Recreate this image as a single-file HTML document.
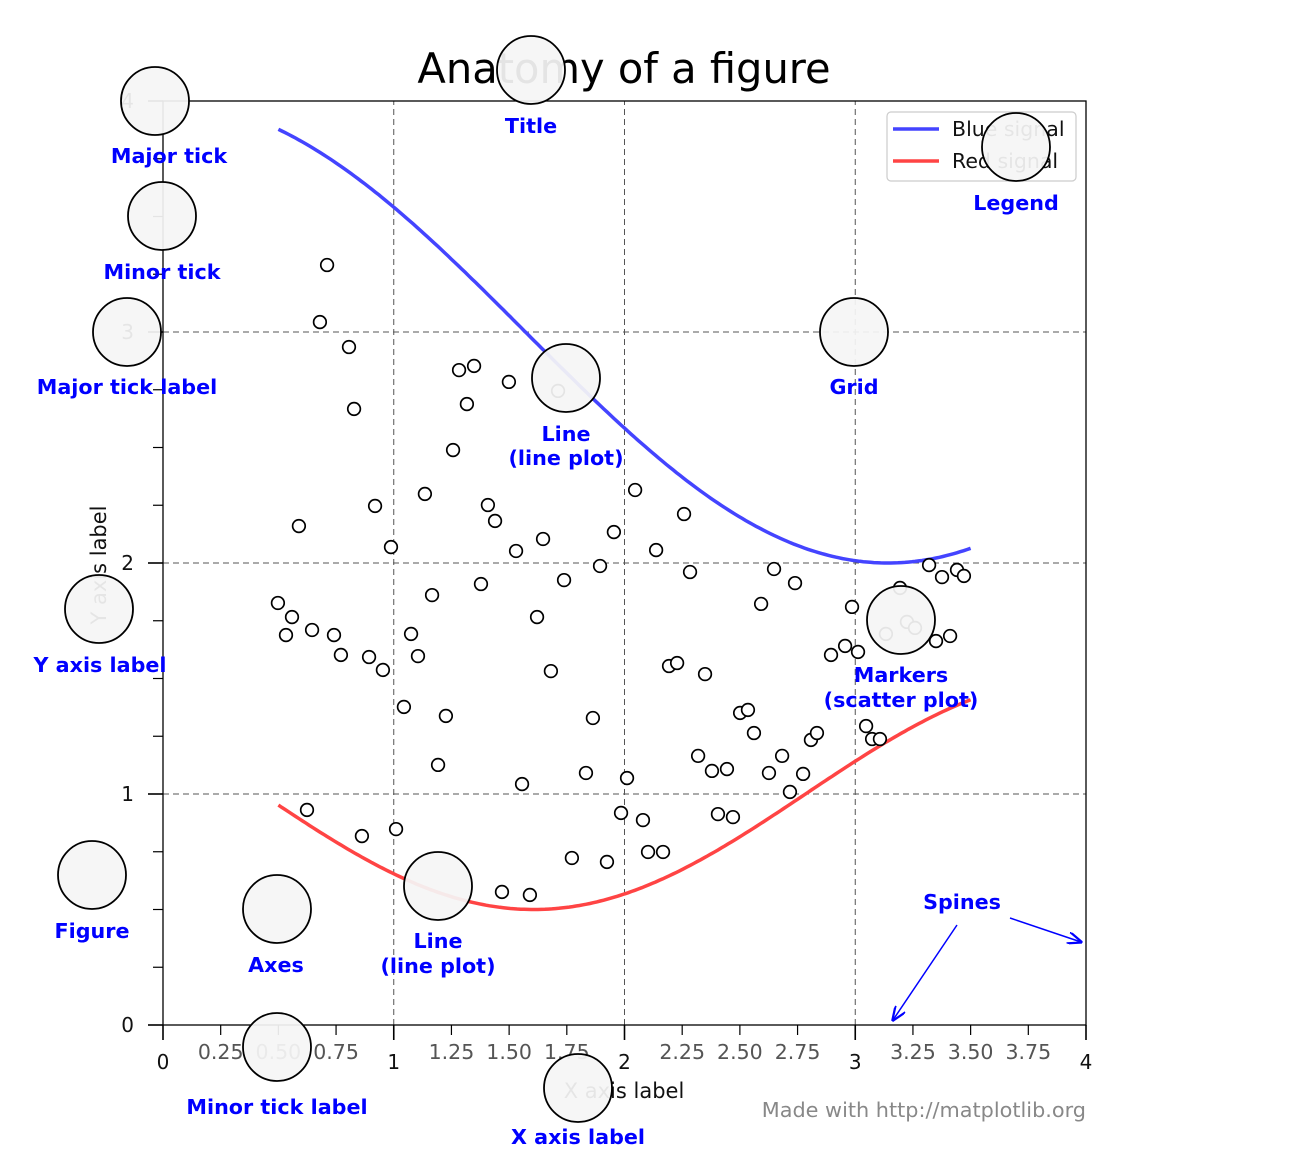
<!DOCTYPE html>
<html><head><meta charset="utf-8"><style>
body{margin:0;background:#fff}
svg{display:block;font-family:"DejaVu Sans","Liberation Sans",sans-serif}
.lab{fill:#0000ff;font-weight:bold;font-size:20.7px;text-anchor:middle}
</style></head><body>
<svg id="s" width="1314" height="1162" viewBox="0 0 1314 1162"></svg>
<script>
const xs=[327,320,349,354,299,375,391,278,292,286,312,334,341,369,383,411,418,432,404,425,459,474,467,453,509,488,495,481,516,543,537,551,564,558,600,614,635,656,684,690,669,677,705,761,774,795,852,845,858,831,900,886,907,915,936,950,929,942,957,964,446,438,522,586,593,627,621,643,648,663,607,572,530,502,396,362,307,698,712,727,718,733,740,748,754,769,782,790,803,811,817,866,872,880].map(p=>+((p-163)/230.75).toFixed(3));
const ys=[265,322,347,409,526,506,547,603,617,635,630,635,655,657,670,634,656,595,707,494,370,366,404,450,382,505,521,584,551,539,617,671,580,391,566,532,490,550,514,572,666,663,674,604,569,583,607,646,652,655,588,634,622,628,641,636,565,577,570,576,716,765,784,773,718,778,813,820,852,852,862,858,895,892,829,836,810,756,771,769,814,817,713,710,733,773,756,792,774,740,733,726,739,739].map(p=>+((1025-p)/231).toFixed(3));
const majorTicks=[0,1,2,3,4];
const minorLabels=["0.25","0.50","0.75","1.25","1.50","1.75","2.25","2.50","2.75","3.25","3.50","3.75"];
const legendLabels=["Blue signal","Red signal"];
const NS="http://www.w3.org/2000/svg",s=document.getElementById('s');
const X=v=>163+v*230.75, Y=v=>1025-v*231;
function el(t,a,txt){const e=document.createElementNS(NS,t);for(const k in a)e.setAttribute(k,a[k]);if(txt!=null)e.textContent=txt;s.appendChild(e);return e;}
majorTicks.forEach(v=>{
 let g=el('line',{x1:X(v),x2:X(v),y1:Y(0),y2:Y(4),stroke:'#555','stroke-dasharray':'6,4','stroke-width':1});
 
 g=el('line',{x1:X(0),x2:X(4),y1:Y(v),y2:Y(v),stroke:'#555','stroke-dasharray':'6,4','stroke-width':1});
 
});
function curve(f,c,name){let d='';for(let i=0;i<=200;i++){const x=0.5+3*i/200;d+=(i?'L':'M')+X(x).toFixed(1)+','+Y(f(x)).toFixed(1);}
 const p=el('path',{d,fill:'none',stroke:c,'stroke-width':3.5});}
curve(x=>3+Math.cos(x),'#4444ff','blue-signal-line');
curve(x=>1+Math.cos(1+x/0.75)/2,'#ff4444','red-signal-line');
xs.forEach((x,i)=>{const c=el('circle',{cx:X(x),cy:Y(ys[i]),r:6.3,fill:'#fff',stroke:'#000','stroke-width':1.7});
 });
const sp=el('rect',{x:X(0),y:Y(4),width:X(4)-X(0),height:Y(0)-Y(4),fill:'none',stroke:'#000','stroke-width':1.3});

for(let i=0;i<=16;i++){const v=i/4,maj=i%4==0,L=maj?15:10;
 el('line',{x1:X(v),x2:X(v),y1:Y(0),y2:Y(0)+L,stroke:'#000','stroke-width':maj?1.6:1.2});
 el('line',{x1:X(0),x2:X(0)-L,y1:Y(v),y2:Y(v),stroke:'#000','stroke-width':maj?1.6:1.2});}
majorTicks.forEach(v=>{
 const t=el('text',{x:X(v),y:1069,'font-size':20,'text-anchor':'middle',fill:'#111'},String(v));
 
 const u=el('text',{x:134,y:Y(v)+7,'font-size':20,'text-anchor':'end',fill:'#111'},String(v));
 });
minorLabels.forEach(l=>{const t=el('text',{x:X(+l),y:1059,'font-size':20.5,'text-anchor':'middle',fill:'#555'},l);
 });
let t=el('text',{x:624,y:83,'font-size':41.6,'text-anchor':'middle',fill:'#000'},'Anatomy of a figure');
t=el('text',{x:624,y:1098,'font-size':21,'text-anchor':'middle',fill:'#111'},'X axis label');
t=el('text',{x:0,y:0,'font-size':21,'text-anchor':'middle',fill:'#111',transform:'translate(106,565) rotate(-90)'},'Y axis label');
t=el('text',{x:1086,y:1117,'font-size':20.8,'text-anchor':'end',fill:'#888'},'Made with http://matplotlib.org');
const lg=el('rect',{x:887,y:112,width:189,height:69,rx:4,fill:'#fff',stroke:'#ccc','stroke-width':1.2});
legendLabels.forEach((l,i)=>{const y=129+i*32;
 el('line',{x1:893,x2:939,y1:y,y2:y,stroke:i?'#ff4444':'#4444ff','stroke-width':3.5});
 const e=el('text',{x:952,y:y+7,'font-size':20.5,fill:'#111'},l);});
const circ=[[155,101],[162,216],[127,332],[99,609],[92,875],[277,909],[277,1047],[578,1088],[438,886],[566,378],[531,70],[854,332],[901,620],[1016,147]];
circ.forEach(c=>{const e=el('circle',{cx:c[0],cy:c[1],r:34,fill:'#f5f5f5','fill-opacity':0.93,stroke:'#000','stroke-width':1.8});
 });
const labs=[[169,163,'Major tick'],[162,279,'Minor tick'],[127,394,'Major tick label'],[100,672,'Y axis label'],[92,938,'Figure'],[276,972,'Axes'],[277,1114,'Minor tick label'],[578,1144,'X axis label'],[438,948,'Line'],[438,973,'(line plot)'],[566,441,'Line'],[566,465,'(line plot)'],[531,133,'Title'],[854,394,'Grid'],[901,682,'Markers'],[901,707,'(scatter plot)'],[1016,210,'Legend'],[962,909,'Spines']];
labs.forEach(l=>{const e=el('text',{x:l[0],y:l[1],class:'lab'},l[2]);});
el('defs',{}).innerHTML='<marker id="ah" markerWidth="10" markerHeight="8" refX="9" refY="4" orient="auto"><path d="M0,0 L10,4 L0,8" fill="none" stroke="#0000ff" stroke-width="1.5"/></marker>';
[[957,925,893,1020],[1010,918,1081,942]].forEach(a=>{const e=el('line',{x1:a[0],y1:a[1],x2:a[2],y2:a[3],stroke:'#0000ff','stroke-width':1.5,'marker-end':'url(#ah)'});
 });
</script>
</body></html>
